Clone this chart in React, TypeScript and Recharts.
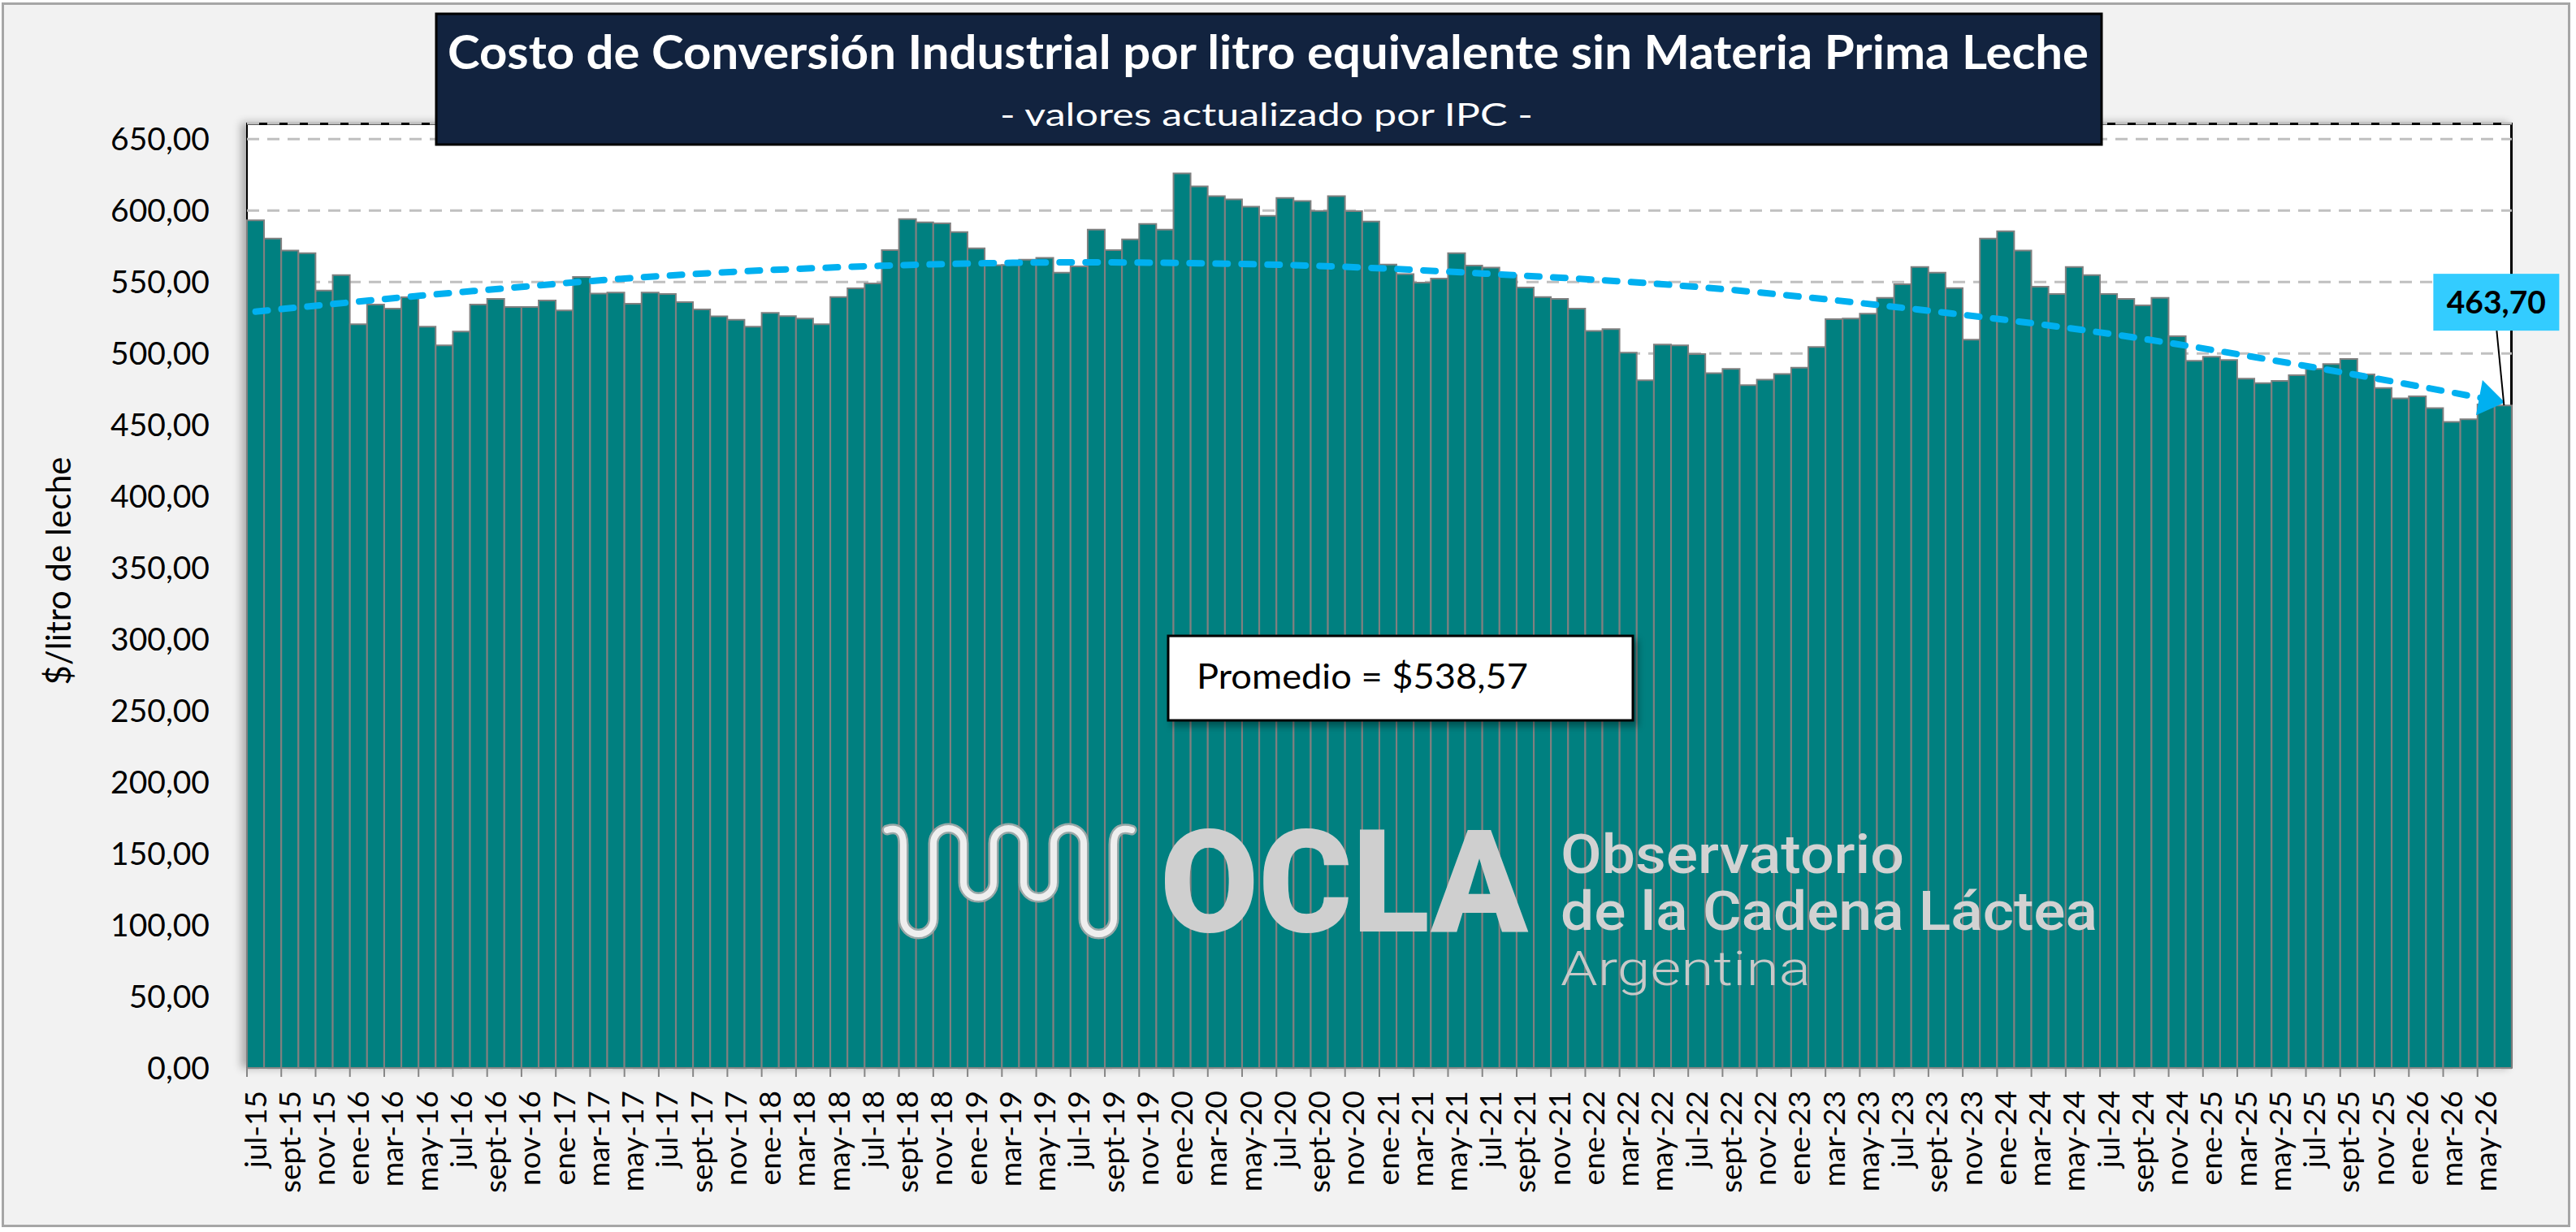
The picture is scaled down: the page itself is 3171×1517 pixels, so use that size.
import {
  ComposedChart,
  Bar,
  Line,
  XAxis,
  YAxis,
  CartesianGrid,
  LabelList,
} from "recharts";

const categories = [
  "jul-15", "ago-15", "sept-15", "oct-15", "nov-15", "dic-15",
  "ene-16", "feb-16", "mar-16", "abr-16", "may-16", "jun-16", "jul-16", "ago-16", "sept-16", "oct-16", "nov-16", "dic-16",
  "ene-17", "feb-17", "mar-17", "abr-17", "may-17", "jun-17", "jul-17", "ago-17", "sept-17", "oct-17", "nov-17", "dic-17",
  "ene-18", "feb-18", "mar-18", "abr-18", "may-18", "jun-18", "jul-18", "ago-18", "sept-18", "oct-18", "nov-18", "dic-18",
  "ene-19", "feb-19", "mar-19", "abr-19", "may-19", "jun-19", "jul-19", "ago-19", "sept-19", "oct-19", "nov-19", "dic-19",
  "ene-20", "feb-20", "mar-20", "abr-20", "may-20", "jun-20", "jul-20", "ago-20", "sept-20", "oct-20", "nov-20", "dic-20",
  "ene-21", "feb-21", "mar-21", "abr-21", "may-21", "jun-21", "jul-21", "ago-21", "sept-21", "oct-21", "nov-21", "dic-21",
  "ene-22", "feb-22", "mar-22", "abr-22", "may-22", "jun-22", "jul-22", "ago-22", "sept-22", "oct-22", "nov-22", "dic-22",
  "ene-23", "feb-23", "mar-23", "abr-23", "may-23", "jun-23", "jul-23", "ago-23", "sept-23", "oct-23", "nov-23", "dic-23",
  "ene-24", "feb-24", "mar-24", "abr-24", "may-24", "jun-24", "jul-24", "ago-24", "sept-24", "oct-24", "nov-24", "dic-24",
  "ene-25", "feb-25", "mar-25", "abr-25", "may-25", "jun-25", "jul-25", "ago-25", "sept-25", "oct-25", "nov-25", "dic-25",
  "ene-26", "feb-26", "mar-26", "abr-26", "may-26", "jun-26",
];

// $/litro
const costo = [
  593.2, 580.4, 572.1, 570.2, 544.1, 554.8,
  520.5, 534.2, 531.4, 539.4, 518.8, 505.7, 515.4, 534.2, 538.2, 532.5, 532.5, 537.1,
  530.2, 553.6, 542.0, 542.6, 534.8, 542.7, 541.6, 535.9, 530.8, 526.0, 523.6, 518.8,
  528.5, 526.2, 524.5, 520.5, 539.5, 545.6, 549.0, 572.4, 594.1, 591.8, 591.1, 585.0,
  573.6, 561.8, 562.0, 565.6, 566.9, 556.5, 561.0, 586.7, 572.4, 579.8, 590.7, 586.7,
  626.0, 616.9, 610.1, 607.8, 602.7, 596.4, 608.9, 606.7, 599.8, 610.1, 599.6, 592.4,
  562.2, 555.5, 549.6, 552.5, 570.2, 561.6, 560.1, 554.9, 546.2, 539.5, 538.2, 531.4,
  515.8, 517.1, 500.6, 481.2, 506.3, 505.7, 499.6, 486.3, 489.2, 477.8, 481.7, 485.7,
  490.1, 504.6, 524.0, 524.5, 527.8, 539.0, 548.5, 560.6, 556.5, 545.8, 509.7, 580.4,
  585.6, 572.1, 546.8, 541.6, 560.6, 554.9, 541.6, 538.2, 533.7, 539.0, 512.1, 494.9,
  497.8, 495.5, 482.4, 479.3, 480.8, 484.8, 489.2, 492.6, 496.2, 485.4, 475.9, 468.6,
  470.0, 461.8, 452.1, 454.0, 464.4, 463.7,
];

// trendline, read at a few months
const trendMonths = ["jul-15", "jul-16", "jul-17", "jul-18", "jul-19", "jul-20", "jul-21", "jul-22", "jul-23", "jul-24", "jul-25", "jun-26"];
const trendValues = [529.3, 543.0, 554.5, 561.2, 563.8, 562.0, 555.7, 546.6, 532.0, 513.9, 490.2, 466.0];

const yTicks = [0, 50, 100, 150, 200, 250, 300, 350, 400, 450, 500, 550, 600, 650];

const data = categories.map((name, i) => {
  const t = trendMonths.indexOf(name);
  return { name, value: costo[i], trend: t >= 0 ? trendValues[t] : null };
});

const fmt = (v: number) => v.toFixed(2).replace(".", ",");
const HALF_BAND = 2788 / 132 / 2;

const XTick = (props: any) => {
  const { x, y, payload } = props;
  return (
    <g>
      <line x1={x - HALF_BAND} x2={x - HALF_BAND} y1={y} y2={y + 11} stroke="#868686" strokeWidth={2} />
      <text
        transform={`translate(${x},${y + 28}) rotate(-90)`}
        textAnchor="end"
        dy="0.35em"
        fontSize={37}
        fontFamily="Lato"
        fill="#000"
      >
        {payload.value}
      </text>
    </g>
  );
};

const LastLabel = (props: any) => {
  const { x, y, width, value, index } = props;
  if (index !== costo.length - 1) return null;
  const cx = x + width / 2;
  return (
    <g>
      <line x1={cx - 8} y1={y - 92} x2={cx + 1} y2={y} stroke="#000" strokeWidth={2} />
      <rect x={cx - 86} y={y - 162} width={155} height={70} fill="#33ccff" />
      <text x={cx - 8.5} y={y - 113} textAnchor="middle" fontSize={39} fontWeight={700} fontFamily="Lato" fill="#000">
        {fmt(value)}
      </text>
    </g>
  );
};

const WAVE =
  "M1092,1022 Q1112,1016 1112,1040 L1112,1131.5 A18.5,18.5 0 0 0 1149,1131.5 L1149,1038.5 A18.5,18.5 0 0 1 1186,1038.5 L1186,1086.5 A18.5,18.5 0 0 0 1223,1086.5 L1223,1038.5 A18.5,18.5 0 0 1 1260,1038.5 L1260,1086.5 A18.5,18.5 0 0 0 1297,1086.5 L1297,1038.5 A18.5,18.5 0 0 1 1334,1038.5 L1334,1131.5 A18.5,18.5 0 0 0 1371,1131.5 L1371,1040 Q1371,1016 1393,1022";

export default function App() {
  let prev: { x: number; y: number } | null = null;
  const trendDot = (p: any) => {
    const { cx, cy, index, value } = p;
    if (value == null || cy == null) return <g key={`d-${index}`} />;
    const last = index === costo.length - 1;
    const from = prev;
    prev = { x: cx, y: cy };
    if (!last || !from) return <g key={`d-${index}`} />;
    const ang = (Math.atan2(cy - from.y, cx - from.x) * 180) / Math.PI;
    return (
      <g key={`d-${index}`} transform={`translate(${cx},${cy}) rotate(${ang})`}>
        <polygon points="2,0 -30,-22 -30,22" fill="#00b0f0" />
      </g>
    );
  };

  return (
    <div style={{ position: "absolute", left: 0, top: 0, width: 3171, height: 1517, background: "#fff", fontFamily: "Lato" }}>
      <div
        style={{
          position: "absolute",
          left: 2,
          top: 3,
          width: 3162,
          height: 1508,
          boxSizing: "border-box",
          border: "3px solid #a6a6a6",
          background: "#f2f2f2",
        }}
      />
      <div
        style={{
          position: "absolute",
          left: 303,
          top: 151,
          width: 2790,
          height: 1164,
          boxSizing: "border-box",
          borderTop: "3px solid #000",
          borderRight: "3px solid #000",
          borderLeft: "2px solid #000",
          background: "#fff",
          boxShadow: "-6px 0 10px rgba(0,0,0,0.3)",
        }}
      />
      <div style={{ position: "absolute", left: 0, top: 0 }}>
        <ComposedChart
          width={3171}
          height={1517}
          data={data}
          margin={{ top: 152, right: 79, bottom: 52, left: 0 }}
          barCategoryGap={0}
          barGap={0}
        >
          <CartesianGrid vertical={false} stroke="#c0c0c0" strokeWidth={3} strokeDasharray="15 10" />
          <XAxis
            dataKey="name"
            interval={1}
            height={150}
            tickSize={0}
            tickMargin={0}
            tick={<XTick />}
            axisLine={{ stroke: "#868686", strokeWidth: 2 }}
          />
          <YAxis
            width={304}
            domain={[0, 661]}
            ticks={yTicks}
            tickFormatter={fmt}
            tickSize={0}
            tickMargin={46}
            axisLine={false}
            tickLine={false}
            tick={{ fontSize: 39, fill: "#000", fontFamily: "Lato" }}
          />
          <Bar dataKey="value" fill="#008080" stroke="#808080" strokeWidth={2} isAnimationActive={false}>
            <LabelList dataKey="value" content={<LastLabel />} />
          </Bar>
          <Line
            dataKey="trend"
            type="monotone"
            connectNulls
            stroke="#00b0f0"
            strokeWidth={8}
            strokeDasharray="15 17"
            strokeLinecap="round"
            dot={trendDot}
            activeDot={false}
            isAnimationActive={false}
          />
        </ComposedChart>
      </div>
      <svg width={3171} height={1517} style={{ position: "absolute", left: 0, top: 0, pointerEvents: "none" }}>
        <defs>
          <filter id="sh" x="-10%" y="-10%" width="130%" height="140%">
            <feDropShadow dx="5" dy="6" stdDeviation="4" floodColor="#000" floodOpacity="0.35" />
          </filter>
        </defs>
        {/* title */}
        <rect x={537} y={17} width={2050} height={161} fill="#12233f" stroke="#000" strokeWidth={3} />
        <text
          x={1561}
          y={85}
          textAnchor="middle"
          fill="#fff"
          fontSize={58}
          fontWeight={700}
          fontFamily="Lato"
          textLength={2020}
          lengthAdjust="spacingAndGlyphs"
        >
          Costo de Conversión Industrial por litro equivalente sin Materia Prima Leche
        </text>
        <text x={1559} y={155} textAnchor="middle" fill="#fff" fontSize={38} fontFamily="Lato" textLength={656} lengthAdjust="spacingAndGlyphs">
          - valores actualizado por IPC -
        </text>
        {/* y axis title */}
        <text
          transform="translate(72,703) rotate(-90)"
          textAnchor="middle"
          dy="0.35em"
          fontSize={42}
          fontFamily="Lato"
          fill="#000"
          textLength={281}
          lengthAdjust="spacingAndGlyphs"
        >
          $/litro de leche
        </text>
        {/* average box */}
        <rect x={1438} y={783} width={572} height={104} fill="#fff" stroke="#000" strokeWidth={3} filter="url(#sh)" />
        <text x={1473} y={848} fontSize={43} fontFamily="Lato" fill="#000" textLength={408} lengthAdjust="spacingAndGlyphs">
          Promedio = $538,57
        </text>
        {/* OCLA watermark */}
        <g fill="none" strokeLinecap="round" strokeLinejoin="round">
          <path d={WAVE} stroke="#9aa8a8" strokeWidth={13} />
          <path d={WAVE} stroke="#eeeeee" strokeWidth={8} />
        </g>
        <text x={1428} y={1147} fontSize={176} fontWeight={900} fontFamily="Roboto" fill="#cfcfcf" textLength={453} lengthAdjust="spacingAndGlyphs">
          OCLA
        </text>
        <text x={1921} y={1075} fontSize={66} fontWeight={500} fontFamily="Roboto" fill="#d2d2d2" textLength={423} lengthAdjust="spacingAndGlyphs">
          Observatorio
        </text>
        <text x={1921} y={1145} fontSize={66} fontWeight={500} fontFamily="Roboto" fill="#d2d2d2" textLength={661} lengthAdjust="spacingAndGlyphs">
          de la Cadena Láctea
        </text>
        <text x={1921} y={1213} fontSize={60} fontWeight={300} fontFamily="Roboto" fill="#c8c8c8" textLength={308} lengthAdjust="spacingAndGlyphs">
          Argentina
        </text>
      </svg>
    </div>
  );
}
